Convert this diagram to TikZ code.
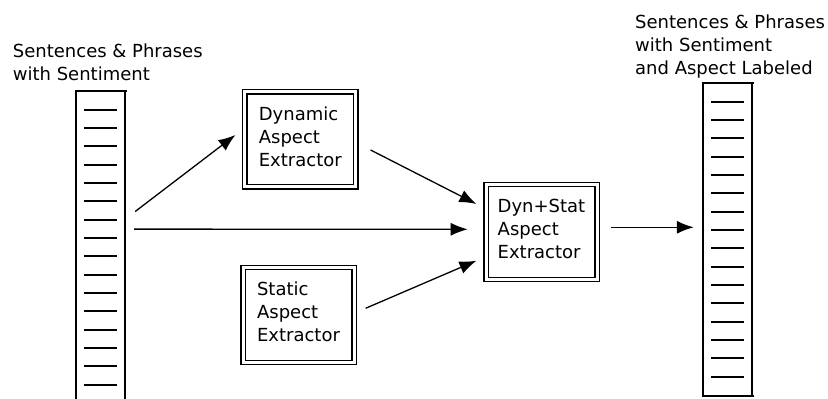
\documentclass[tikz,border=0pt]{standalone}
\usepackage{fontspec}
\setmainfont{DejaVu Sans}
\usetikzlibrary{arrows.meta,calc}
\newcommand{\lowstrut}{\rule[-6pt]{0pt}{1pt}}
\begin{document}
\begin{tikzpicture}[x=1pt,y=-1pt,
  every node/.style={font=\fontsize{18}{23}\selectfont},
  box/.style={draw, line width=1.2pt, double, double distance=3pt,
    minimum width=111pt, minimum height=95pt, align=left, inner sep=0pt},
  arr/.style={line width=1.3pt, -{Latex[length=17pt,width=13pt]}},
  side/.style={line width=1.5pt},
  stackend/.style={line width=2.6pt, line cap=rect},
  rung/.style={line width=2pt},
  stack/.style={inner sep=0pt, minimum width=49pt}]
\useasboundingbox (0,0) rectangle (828,399);
\clip (0,0) rectangle (828,399);

% titles (base anchor = baseline of the last line)
\node[anchor=base west, align=left, inner sep=0pt] (lt) at (12.7,80.7)
  {Sentences \& Phrases\\with Sentiment};
\node[anchor=base west, align=left, inner sep=0pt] (rt) at (635,74)
  {Sentences \& Phrases\\with Sentiment\\and Aspect Labeled};

% left stack
\node[stack, minimum height=319pt] (ls) at (100.5,250.5) {};
\draw[side] (ls.north west) -- (ls.south west);
\draw[side] (ls.north east) -- (ls.south east);
\draw[stackend] (ls.north west) -- (ls.north east);
\foreach \i in {0,...,15}
  \draw[rung] ($(ls.north west)+(8,{19+\i*18.33})$) -- ($(ls.north east)+(-8,{19+\i*18.33})$);

% right stack
\node[stack, minimum height=312.4pt] (rs) at (727.5,239.5) {};
\draw[side] (rs.north west) -- (rs.south west);
\draw[side] (rs.north east) -- (rs.south east);
\draw[stackend] (rs.north west) -- (rs.north east);
\draw[stackend] (rs.south west) -- (rs.south east);
\foreach \i in {0,...,15}
  \draw[rung] ($(rs.north west)+(8,{18.7+\i*18.33})$) -- ($(rs.north east)+(-8,{18.7+\i*18.33})$);

% boxes
\node[box] (dyn) at (300.3,139.3) {Dynamic\\Aspect\\Extractor\lowstrut};
\node[box] (stat) at (298.5,314.7) {Static\\Aspect\\Extractor\lowstrut};
\node[box] (ds) at (541.5,232) {Dyn+Stat\\Aspect\\Extractor\lowstrut};

% arrows
\draw[arr] ($(ls.north east)+(10,120.7)$) -- ($(dyn.west)+(-8.8,-4.3)$);
\draw[arr] ($(dyn.east)+(14.2,10.7)$) -- ($(ds.west)+(-9,-28)$);
\draw[arr] ($(ls.north east)+(9,138.3)$) -- ($(ds.west)+(-17.7,-2.7)$);
\draw[arr] ($(stat.east)+(11,-6.4)$) -- ($(ds.west)+(-9,28.7)$);
\draw[arr] ($(ds.east)+(13.4,-4.7)$) -- ($(rs.west)+(-9,-12.2)$);
\end{tikzpicture}
\end{document}
